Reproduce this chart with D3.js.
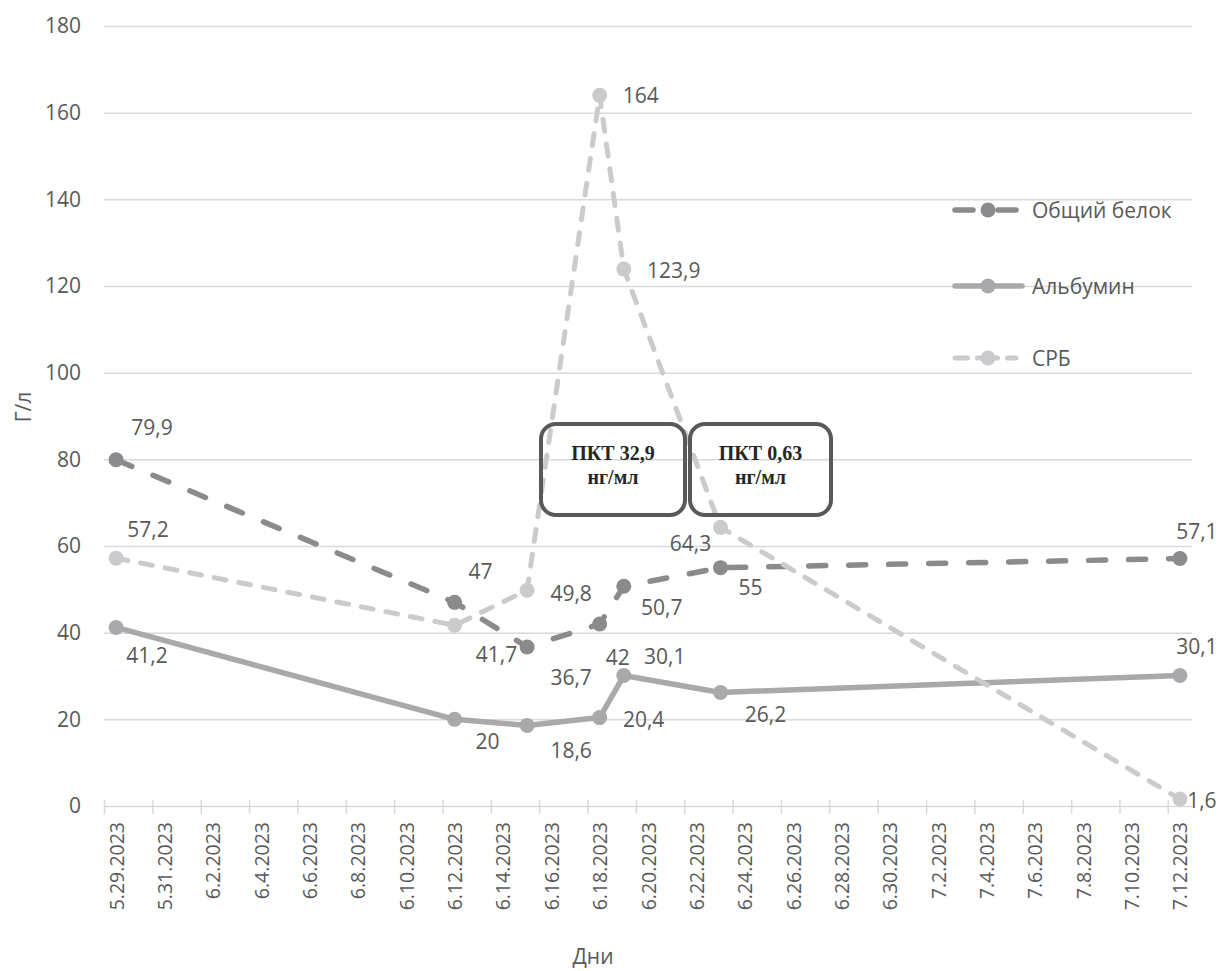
<!DOCTYPE html>
<html>
<head>
<meta charset="utf-8">
<script src="https://cdn.jsdelivr.net/npm/d3@7"></script>
<style>
  body { margin: 0; background: #fff; }
  svg { display: block; }
</style>
</head>
<body>
<div id="chart"></div>
<script>
// -- DATA --
var dates = ['2023-05-29', '2023-06-12', '2023-06-15', '2023-06-18', '2023-06-19', '2023-06-23', '2023-07-12']
var totalProtein = [79.9, 47, 36.7, 42, 50.7, 55, 57.1]
var albumin = [41.2, 20, 18.6, 20.4, 30.1, 26.2, 30.1]
var crp = [57.2, 41.7, 49.8, 164, 123.9, 64.3, 1.6]
var seriesNames = ['Общий белок', 'Альбумин', 'СРБ']
var yTicks = [0, 20, 40, 60, 80, 100, 120, 140, 160, 180]
var axisStart = '2023-05-29'
var axisEnd = '2023-07-13'
var xTitle = 'Дни'
var yTitle = 'Г/л'
var pctNotes = [['ПКТ 32,9', 'нг/мл'], ['ПКТ 0,63', 'нг/мл']]

// -- LAYOUT --
width = 1220
height = 971
margin = {left: 104, right: 28, top: 26, bottom: 165}
var font = '"Open Sans", "Noto Sans", sans-serif'
var textColor = '#595959'

var svg = d3.select('#chart').append('svg')
  .attr('width', width)
  .attr('height', height)

var parse = d3.timeParse('%Y-%m-%d')
var mid = d => d3.timeHour.offset(parse(d), 12)

var xMap = d3.scaleTime()
  .domain([parse(axisStart), parse(axisEnd)])
  .range([margin.left, width - margin.right])

var yMap = d3.scaleLinear()
  .domain([0, 180])
  .range([height - margin.bottom, margin.top])

// label offsets (px, from the point) for each series
var labelOffsets = [
  [[36, -32], [26, -31], [44, 30], [18, 33], [38, 21], [30, 20], [17, -27]],
  [[31, 28], [33, 22], [44, 25], [44, 2], [41, -19], [45, 22], [17, -29]],
  [[32, -29], [42, 29], [44, 3], [41, 0], [50, 1], [-30, 16], [22, 1]]
]

var series = [
  {name: seriesNames[0], values: totalProtein, color: '#8b8b8d', dash: '17,23', width: 5.5},
  {name: seriesNames[1], values: albumin, color: '#a9a9ab', dash: null, width: 5.5},
  {name: seriesNames[2], values: crp, color: '#cbcbcd', dash: '12,13', width: 5}
]

// -- GRID --
var gGrid = svg.append('g')
  .attr('transform', 'translate(' + margin.left + ',0)')
  .call(d3.axisLeft(yMap)
    .tickValues(yTicks.filter(d => d > 0))
    .tickSize(-(width - margin.left - margin.right))
    .tickFormat(''))
gGrid.select('.domain').remove()
gGrid.selectAll('line')
  .style('stroke', '#d9d9d9')
  .style('stroke-width', '1.5px')

// y axis labels
var gY = svg.append('g')
  .attr('transform', 'translate(' + margin.left + ',0)')
  .call(d3.axisLeft(yMap).tickValues(yTicks).tickSize(0).tickPadding(23))
gY.select('.domain').remove()
gY.selectAll('text')
  .style('font-family', font)
  .style('font-size', '21px')
  .style('fill', textColor)

// x axis: ticks every 2 days from the first date, crossing the line
var tickDates = d3.timeDay.range(parse(axisStart), parse(axisEnd)).filter((d, i) => i % 2 == 0)
var gX = svg.append('g')
  .attr('transform', 'translate(0,' + yMap(0) + ')')
  .call(d3.axisBottom(xMap).tickValues(tickDates).tickSize(8).tickSizeOuter(0).tickFormat(''))
gX.select('.domain')
  .style('stroke', '#d9d9d9')
  .style('stroke-width', '1.5px')
gX.selectAll('.tick line')
  .attr('y1', -6)
  .style('stroke', '#d9d9d9')
  .style('stroke-width', '1.5px')

var fmtDate = d => (d.getMonth() + 1) + '.' + d.getDate() + '.' + d.getFullYear()
var gXL = svg.append('g')
  .attr('transform', 'translate(0,' + yMap(0) + ')')
  .call(d3.axisBottom(xMap)
    .tickValues(tickDates.map(d => d3.timeHour.offset(d, 12)))
    .tickSize(0)
    .tickFormat(fmtDate))
gXL.select('.domain').remove()
gXL.selectAll('text')
  .attr('transform', 'rotate(-90)')
  .attr('x', -16)
  .attr('y', 0)
  .attr('dy', '0.36em')
  .style('text-anchor', 'end')
  .style('font-family', font)
  .style('font-size', '19.5px')
  .style('fill', textColor)

// axis titles
svg.append('text')
  .attr('x', 593)
  .attr('y', 964)
  .style('text-anchor', 'middle')
  .style('font-family', font)
  .style('font-size', '21px')
  .style('fill', textColor)
  .text(xTitle)

svg.append('text')
  .attr('transform', 'translate(23,407) rotate(-90)')
  .attr('dy', '0.36em')
  .style('text-anchor', 'middle')
  .style('font-family', font)
  .style('font-size', '21px')
  .style('fill', textColor)
  .text(yTitle)

// -- SERIES --
var line = d3.line()
  .x(d => xMap(mid(d.date)))
  .y(d => yMap(d.value))

series.forEach(function(s, si) {
  var pts = dates.map((d, i) => ({date: d, value: s.values[i], off: labelOffsets[si][i]}))
  var g = svg.append('g')

  g.append('path')
    .datum(pts)
    .attr('d', line)
    .style('fill', 'none')
    .style('stroke', s.color)
    .style('stroke-width', s.width)
    .style('stroke-linecap', 'round')
    .style('stroke-linejoin', 'round')
    .style('stroke-dasharray', s.dash)

  g.selectAll('circle')
    .data(pts)
    .enter().append('circle')
      .attr('cx', d => xMap(mid(d.date)))
      .attr('cy', d => yMap(d.value))
      .attr('r', 7.5)
      .style('fill', s.color)

  g.selectAll('text')
    .data(pts)
    .enter().append('text')
      .attr('x', d => xMap(mid(d.date)) + d.off[0])
      .attr('y', d => yMap(d.value) + d.off[1])
      .attr('dy', '0.36em')
      .style('text-anchor', 'middle')
      .style('font-family', font)
      .style('font-size', '21px')
      .style('fill', textColor)
      .text(d => String(d.value).replace('.', ','))
})

// -- LEGEND --
var legendY = [210, 286, 358]
var legendDash = ['18,25', null, '12.5,10,20,10,10']
var gLeg = svg.append('g')
series.forEach(function(s, i) {
  gLeg.append('line')
    .attr('x1', 955)
    .attr('x2', i == 1 ? 1022 : 1016)
    .attr('y1', legendY[i])
    .attr('y2', legendY[i])
    .style('stroke', s.color)
    .style('stroke-width', s.width)
    .style('stroke-linecap', 'round')
    .style('stroke-dasharray', legendDash[i])
  gLeg.append('circle')
    .attr('cx', 988)
    .attr('cy', legendY[i])
    .attr('r', 7.5)
    .style('fill', s.color)
  gLeg.append('text')
    .attr('x', 1032)
    .attr('y', legendY[i])
    .attr('dy', '0.36em')
    .style('font-family', font)
    .style('font-size', '21px')
    .style('fill', textColor)
    .text(s.name)
})

// -- PCT NOTES --
var notes = [{x: 541, w: 144}, {x: 690, w: 141}]
notes.forEach(function(n, i) {
  var g = svg.append('g')
  g.append('rect')
    .attr('x', n.x)
    .attr('y', 424)
    .attr('width', n.w)
    .attr('height', 91)
    .attr('rx', 15)
    .style('fill', 'none')
    .style('stroke', '#595959')
    .style('stroke-width', 4)
  g.selectAll('text')
    .data(pctNotes[i])
    .enter().append('text')
      .attr('x', n.x + n.w / 2)
      .attr('y', (d, j) => 460 + j * 24)
      .style('text-anchor', 'middle')
      .style('font-family', '"Liberation Serif", "Times New Roman", serif')
      .style('font-weight', 'bold')
      .style('font-size', '20px')
      .style('fill', '#262626')
      .text(d => d)
})
</script>
</body>
</html>
